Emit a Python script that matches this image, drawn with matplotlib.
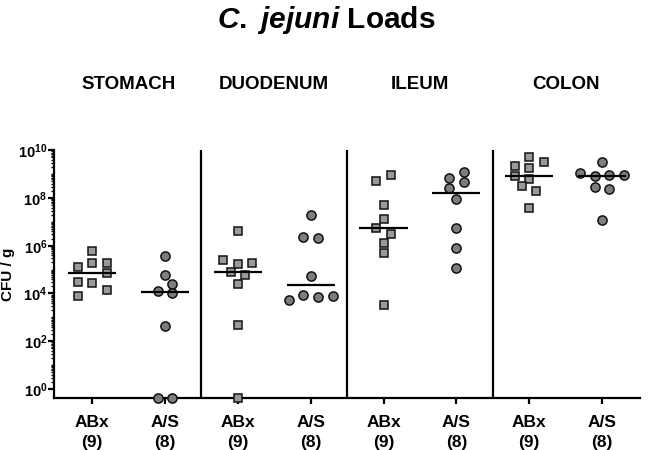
"""C. jejuni loads per gut region, ABx vs A/S, log scatter with medians."""

import numpy as np
import matplotlib

matplotlib.use("Agg")
import matplotlib.pyplot as plt
from matplotlib.ticker import FixedLocator, NullFormatter

plt.rcParams["font.family"] = ["Liberation Sans", "DejaVu Sans"]
plt.rcParams["font.weight"] = "bold"
plt.rcParams["mathtext.fontset"] = "custom"
plt.rcParams["mathtext.rm"] = "Liberation Sans:bold"
plt.rcParams["mathtext.bf"] = "Liberation Sans:bold"
plt.rcParams["mathtext.it"] = "Liberation Sans:italic:bold"

regions = ["STOMACH", "DUODENUM", "ILEUM", "COLON"]
groups = ["ABx", "A/S"]
group_n = [9, 8]

# log10 CFU / g; None = below detection (sits on the axis)
stomach_abx = [5.79, 5.10, 5.28, 5.28, 4.47, 4.43, 4.86, 4.16, 3.91]
stomach_as = [5.58, 4.76, 4.40, 4.12, 4.01, 2.65, None, None]
duodenum_abx = [6.63, 5.40, 5.22, 5.29, 4.89, 4.77, 4.38, 2.68, None]
duodenum_as = [7.27, 6.35, 6.31, 4.75, 3.73, 3.92, 3.87, 3.91]
ileum_abx = [8.95, 8.70, 7.72, 7.13, 6.75, 6.49, 6.11, 5.70, 3.53]
ileum_as = [9.09, 8.82, 8.68, 8.43, 7.95, 6.75, 5.90, 5.07]
colon_abx = [9.72, 9.51, 9.33, 9.24, 8.92, 8.79, 8.50, 8.30, 7.57]
colon_as = [9.49, 9.03, 8.92, 8.97, 8.95, 8.46, 8.36, 7.08]

series = [stomach_abx, stomach_as, duodenum_abx, duodenum_as,
          ileum_abx, ileum_as, colon_abx, colon_as]

# horizontal swarm slot of each point (same order as the values above)
slots = [
    [0, -2, 0, 2, -2, 0, 2, 2, -2],
    [0, 0, 1, -1, 1, 0, -1, 1],
    [0, -2, 0, 2, -1, 1, 0, 0, 0],
    [0, -1, 1, 0, -3, -1, 1, 3],
    [1, -1, 0, 0, -1, 1, 0, 0, 0],
    [1, -1, 1, -1, 0, 0, 0, 0],
    [0, 2, -2, 0, -2, 0, -1, 1, 0],
    [0, -3, -1, 1, 3, -1, 1, 0],
]

LOG_FLOOR = -0.39
SLOT_W = 0.1

fig = plt.figure(figsize=(6.5, 4.5), dpi=100)
ax = fig.add_axes([0.0835, 0.115, 0.901, 0.551])

for i, (vals, slot) in enumerate(zip(series, slots)):
    logs = np.array([LOG_FLOOR if v is None else v for v in vals])
    xs = i + SLOT_W * np.array(slot)
    if i % 2 == 0:
        style = dict(marker="s", ms=6.3, mfc="#9a9a9a")
    else:
        style = dict(marker="o", ms=6.6, mfc="#7d7d7d")
    ax.plot(xs, 10.0 ** logs, ls="none", mec="#111111", mew=1.1,
            clip_on=False, zorder=3, **style)
    med = np.median(logs)
    ax.plot([i - 0.33, i + 0.33], [10.0 ** med] * 2, color="black", lw=1.6,
            zorder=4, solid_capstyle="butt")

ax.set_yscale("log")
ax.set_ylim(10.0 ** LOG_FLOOR, 1e10)
ax.set_xlim(-0.52, 7.52)

for xd in [1.5, 3.5, 5.5]:
    ax.axvline(xd, color="black", lw=1.6, zorder=2)

for side in ["top", "right"]:
    ax.spines[side].set_visible(False)
for side in ["left", "bottom"]:
    ax.spines[side].set_linewidth(1.6)

ax.yaxis.set_major_locator(FixedLocator([10.0 ** k for k in range(0, 11, 2)]))
ax.set_yticklabels([r"$\mathbf{10^{%d}}$" % k for k in range(0, 11, 2)])
minor = [m * 10.0 ** k for k in range(0, 10) for m in range(1, 10)
         if not (m == 1 and k % 2 == 0)]
ax.yaxis.set_minor_locator(FixedLocator(minor))
ax.yaxis.set_minor_formatter(NullFormatter())
ax.tick_params(axis="y", which="major", length=4, width=1.6, labelsize=10.5, pad=1)
ax.tick_params(axis="y", which="minor", length=2.5, width=1.0)

ax.set_xticks(range(len(series)))
ax.set_xticklabels([f"{groups[i % 2]}\n({group_n[i % 2]})" for i in range(len(series))],
                   fontsize=12.5, fontweight="bold", linespacing=1.45)
ax.tick_params(axis="x", length=4, width=1.6, pad=8)

ax.set_ylabel("CFU / g", fontsize=11, fontweight="bold", labelpad=2)

for j, name in enumerate(regions):
    xc = (2 * j + 0.5 + 0.52) / 8.04
    fig.text(0.0835 + 0.901 * xc, 0.813, name, ha="center", va="center",
             fontsize=13.5, fontweight="bold")

fig.text(0.502, 0.955, r"$\mathit{C.}$ $\mathit{jejuni}$ Loads", ha="center",
         va="center", fontsize=21.5, fontweight="bold")

fig.savefig("out.png", dpi=100)
